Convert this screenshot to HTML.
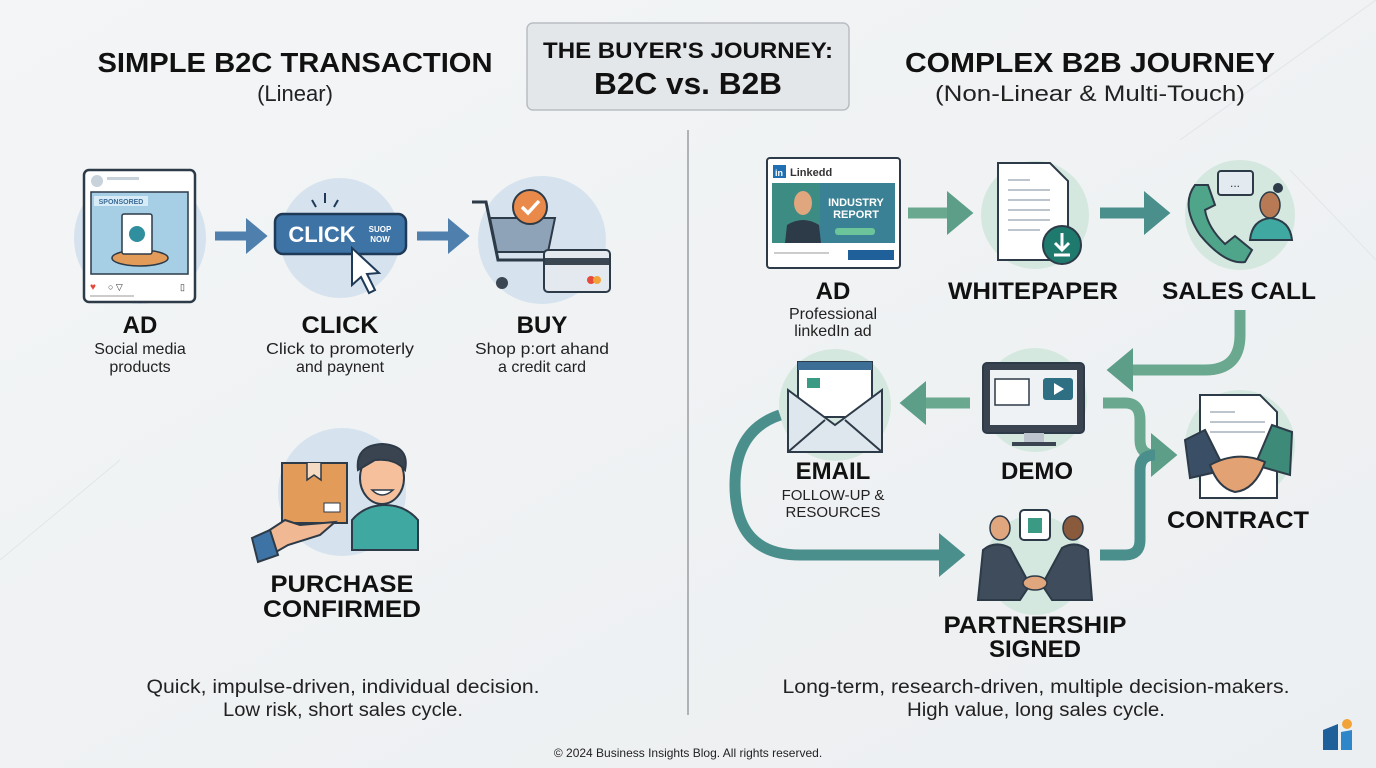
<!DOCTYPE html>
<html><head><meta charset="utf-8"><style>
html,body{margin:0;padding:0;background:#f1f3f4;}
svg{display:block;font-family:"Liberation Sans",sans-serif;}
.h{font-weight:bold;fill:#111;text-anchor:middle;}
.s{fill:#222;text-anchor:middle;}
</style></head><body>
<svg width="1376" height="768" viewBox="0 0 1376 768" xmlns="http://www.w3.org/2000/svg">
<defs>
<linearGradient id="bg" x1="0" y1="0" x2="1" y2="1"><stop offset="0" stop-color="#f3f5f6"/><stop offset="1" stop-color="#eceff1"/></linearGradient>
<marker id="ag" markerWidth="4" markerHeight="4" refX="1" refY="2" orient="auto" markerUnits="strokeWidth"><path d="M0,0 L2.4,2 L0,4 Z" fill="#5c9e88"/></marker>
<marker id="at" markerWidth="4" markerHeight="4" refX="1" refY="2" orient="auto" markerUnits="strokeWidth"><path d="M0,0 L2.4,2 L0,4 Z" fill="#4b8f8c"/></marker>
<marker id="ab" markerWidth="4" markerHeight="4" refX="1" refY="2" orient="auto" markerUnits="strokeWidth"><path d="M0,0 L2.4,2 L0,4 Z" fill="#4f7fac"/></marker>
</defs>
<rect width="1376" height="768" fill="url(#bg)"/>
<g stroke="#e2e6e9" stroke-width="1" fill="none"><path d="M1180 140 L1376 0"/><path d="M1290 170 L1376 260"/><path d="M0 560 L120 460"/></g>

<rect x="527" y="23" width="322" height="87" rx="6" fill="#e4e7ea" stroke="#b9bec3" stroke-width="1.5"/>
<text x="688" y="58" class="h" font-size="22" textLength="290" lengthAdjust="spacingAndGlyphs">THE BUYER'S JOURNEY:</text>
<text x="688" y="94" class="h" font-size="31" textLength="188" lengthAdjust="spacingAndGlyphs">B2C vs. B2B</text>

<text x="295" y="72" class="h" font-size="28" textLength="395" lengthAdjust="spacingAndGlyphs">SIMPLE B2C TRANSACTION</text>
<text x="295" y="101" class="s" font-size="22">(Linear)</text>
<text x="1090" y="72" class="h" font-size="28" textLength="370" lengthAdjust="spacingAndGlyphs">COMPLEX B2B JOURNEY</text>
<text x="1090" y="101" class="s" font-size="22" textLength="310" lengthAdjust="spacingAndGlyphs">(Non-Linear &amp; Multi-Touch)</text>

<line x1="688" y1="130" x2="688" y2="715" stroke="#9a9ea2" stroke-width="1.5"/>

<circle cx="140" cy="238" r="66" fill="#d6e3ee"/>
<circle cx="340" cy="238" r="60" fill="#d6e3ee"/>
<circle cx="542" cy="240" r="64" fill="#d6e3ee"/>
<rect x="84" y="170" width="111" height="132" rx="5" fill="#fff" stroke="#2d3a48" stroke-width="2.5"/>
<circle cx="97" cy="181" r="6" fill="#c8d2db"/><rect x="107" y="177" width="32" height="3" fill="#c8d2db"/>
<rect x="91" y="192" width="97" height="82" fill="#a6cfe6" stroke="#2d3a48" stroke-width="1.5"/>
<rect x="94" y="196" width="54" height="10" fill="#d7ecf7"/><text x="121" y="204" font-size="7" fill="#3b6b97" text-anchor="middle" font-weight="bold">SPONSORED</text>
<ellipse cx="140" cy="258" rx="28" ry="8" fill="#e39b5a" stroke="#2d3a48" stroke-width="1.5"/>
<rect x="122" y="214" width="30" height="40" rx="2" fill="#fff" stroke="#2d3a48" stroke-width="1.5"/>
<circle cx="137" cy="234" r="8" fill="#2f8f9f"/>
<text x="90" y="290" font-size="10" fill="#e04a3a">♥</text><text x="108" y="290" font-size="9" fill="#333">○ ▽</text><text x="180" y="290" font-size="9" fill="#333">▯</text>
<rect x="90" y="295" width="44" height="2" fill="#ccc"/>
<line x1="215" y1="236" x2="255" y2="236" stroke="#4f7fac" stroke-width="9" marker-end="url(#ab)"/>
<line x1="417" y1="236" x2="457" y2="236" stroke="#4f7fac" stroke-width="9" marker-end="url(#ab)"/>
<rect x="275" y="214" width="131" height="40" rx="8" fill="#3e73a6" stroke="#1f3a57" stroke-width="2.5"/>
<text x="322" y="242" font-size="22" font-weight="bold" fill="#fff" text-anchor="middle">CLICK</text>
<text x="380" y="232" font-size="8" font-weight="bold" fill="#fff" text-anchor="middle">SUOP</text>
<text x="380" y="242" font-size="8" font-weight="bold" fill="#fff" text-anchor="middle">NOW</text>
<path d="M352 248 L352 285 L361 277 L369 293 L375 290 L367 274 L379 273 Z" fill="#fff" stroke="#1f3a57" stroke-width="2"/>
<g stroke="#1f3a57" stroke-width="2"><line x1="312" y1="200" x2="316" y2="207"/><line x1="325" y1="193" x2="325" y2="203"/><line x1="338" y1="200" x2="334" y2="207"/></g>
<path d="M472 202 L486 202 L498 260 L548 260" fill="none" stroke="#2d3a48" stroke-width="3"/>
<path d="M490 218 L555 218 L548 252 L497 252 Z" fill="#8fa3b8" stroke="#2d3a48" stroke-width="2"/>
<circle cx="502" cy="283" r="6" fill="#3a4652"/>
<circle cx="530" cy="207" r="17" fill="#ea8a4a" stroke="#2d3a48" stroke-width="2"/>
<path d="M522 207 L528 213 L539 201" fill="none" stroke="#fff" stroke-width="3.5"/>
<rect x="544" y="250" width="66" height="42" rx="4" fill="#e3e9ef" stroke="#2d3a48" stroke-width="2"/>
<rect x="545" y="258" width="64" height="7" fill="#3a4652"/>
<circle cx="591" cy="280" r="4" fill="#e54a3a"/><circle cx="597" cy="280" r="4" fill="#f1a33a"/>
<text x="140" y="333" class="h" font-size="24">AD</text>
<text x="140" y="354" class="s" font-size="16">Social media</text>
<text x="140" y="372" class="s" font-size="16">products</text>
<text x="340" y="333" class="h" font-size="24" textLength="77" lengthAdjust="spacingAndGlyphs">CLICK</text>
<text x="340" y="354" class="s" font-size="16" textLength="148" lengthAdjust="spacingAndGlyphs">Click to promoterly</text>
<text x="340" y="372" class="s" font-size="16">and paynent</text>
<text x="542" y="333" class="h" font-size="24">BUY</text>
<text x="542" y="354" class="s" font-size="16" textLength="134" lengthAdjust="spacingAndGlyphs">Shop p:ort ahand</text>
<text x="542" y="372" class="s" font-size="16">a credit card</text>
<circle cx="342" cy="492" r="64" fill="#d6e3ee"/>
<rect x="282" y="463" width="65" height="60" fill="#e39b5a" stroke="#2d3a48" stroke-width="2"/>
<path d="M307 463 L307 480 L314 475 L321 480 L321 463" fill="#f3dcc3" stroke="#2d3a48" stroke-width="1.5"/>
<rect x="324" y="503" width="16" height="9" fill="#fff" stroke="#2d3a48" stroke-width="1"/>
<path d="M262 535 L262 560 L288 545 L320 535 L335 522 L300 525 L285 520 Z" fill="#f1b894" stroke="#2d3a48" stroke-width="2"/>
<path d="M252 538 L270 530 L278 555 L258 562 Z" fill="#3e73a6" stroke="#2d3a48" stroke-width="2"/>
<path d="M352 550 L352 520 Q365 505 385 505 Q405 505 418 520 L418 550 Z" fill="#3fa8a0" stroke="#2d3a48" stroke-width="2"/>
<ellipse cx="382" cy="478" rx="22" ry="26" fill="#f6c09c" stroke="#2d3a48" stroke-width="2"/>
<path d="M358 470 Q355 445 383 444 Q410 446 405 470 Q395 458 375 460 Z" fill="#3a4450" stroke="#2d3a48" stroke-width="2"/>
<path d="M372 490 Q382 500 393 490 Z" fill="#fff" stroke="#2d3a48" stroke-width="1.5"/>
<text x="342" y="592" class="h" font-size="24" textLength="143" lengthAdjust="spacingAndGlyphs">PURCHASE</text>
<text x="342" y="617" class="h" font-size="24" textLength="158" lengthAdjust="spacingAndGlyphs">CONFIRMED</text>
<text x="343" y="693" class="s" font-size="19" textLength="393" lengthAdjust="spacingAndGlyphs">Quick, impulse-driven, individual decision.</text>
<text x="343" y="716" class="s" font-size="19" textLength="240" lengthAdjust="spacingAndGlyphs">Low risk, short sales cycle.</text>

<g fill="#d5e8e0">
<circle cx="1035" cy="215" r="54"/><circle cx="1240" cy="215" r="55"/>
<circle cx="835" cy="405" r="56"/><circle cx="1035" cy="400" r="52"/>
<circle cx="1240" cy="445" r="55"/><circle cx="1035" cy="565" r="50"/>
</g>
<g fill="none" stroke-width="11">
<line x1="908" y1="213" x2="958" y2="213" stroke="#6aa98f" marker-end="url(#ag)"/>
<line x1="1100" y1="213" x2="1155" y2="213" stroke="#4b8f8c" marker-end="url(#at)"/>
<path d="M1240 310 L1240 335 Q1240 370 1205 370 L1122 370" stroke="#6aa98f" marker-end="url(#ag)"/>
<line x1="970" y1="403" x2="915" y2="403" stroke="#6aa98f" marker-end="url(#ag)"/>
<path d="M780 415 Q735 430 735 485 Q735 555 800 555 L950 555" stroke="#4b8f8c" marker-end="url(#at)"/>
<path d="M1103 403 L1125 403 Q1140 403 1140 420 L1140 440 Q1140 455 1155 455 L1162 455" stroke="#6aa98f" marker-end="url(#ag)"/>
<path d="M1100 555 L1125 555 Q1140 555 1140 540 L1140 470 Q1140 455 1155 455" stroke="#4b8f8c"/>
</g>
<rect x="767" y="158" width="133" height="110" rx="3" fill="#fff" stroke="#2d3a48" stroke-width="2"/>
<rect x="773" y="165" width="13" height="13" fill="#1f6fb2"/><text x="779" y="176" font-size="9" font-weight="bold" fill="#fff" text-anchor="middle">in</text>
<text x="790" y="176" font-size="11" font-weight="bold" fill="#333">Linkedd</text>
<rect x="772" y="183" width="123" height="60" fill="#3d8c84"/>
<rect x="820" y="183" width="75" height="60" fill="#3b7aa0" opacity="0.6"/>
<text x="856" y="206" font-size="11" font-weight="bold" fill="#fff" text-anchor="middle">INDUSTRY</text>
<text x="856" y="218" font-size="11" font-weight="bold" fill="#fff" text-anchor="middle">REPORT</text>
<rect x="835" y="228" width="40" height="7" rx="3" fill="#6cc49a"/>
<ellipse cx="803" cy="203" rx="9" ry="12" fill="#e0a67e"/>
<path d="M785 243 L787 225 Q803 215 819 225 L821 243 Z" fill="#2d3a48"/>
<rect x="848" y="250" width="46" height="10" fill="#1f5f9a"/><rect x="774" y="252" width="55" height="2" fill="#ccc"/>
<path d="M998 163 L1050 163 L1068 181 L1068 260 L998 260 Z" fill="#fff" stroke="#2d3a48" stroke-width="2"/>
<g stroke="#bcc5cd" stroke-width="2"><line x1="1008" y1="180" x2="1030" y2="180"/><line x1="1008" y1="190" x2="1050" y2="190"/><line x1="1008" y1="200" x2="1050" y2="200"/><line x1="1008" y1="210" x2="1050" y2="210"/><line x1="1008" y1="220" x2="1050" y2="220"/><line x1="1008" y1="230" x2="1040" y2="230"/></g>
<circle cx="1062" cy="245" r="19" fill="#1f7a6e" stroke="#2d3a48" stroke-width="2"/>
<path d="M1062 233 L1062 250 M1055 243 L1062 250 L1069 243 M1054 255 L1070 255" stroke="#fff" stroke-width="3" fill="none"/>
<path d="M1195 185 Q1180 205 1200 235 Q1225 265 1245 262 L1252 250 L1235 236 L1225 244 Q1208 228 1205 210 L1215 205 L1208 185 Z" fill="#4ea58a" stroke="#2d3a48" stroke-width="2"/>
<rect x="1218" y="171" width="35" height="24" rx="3" fill="#e4ebf0" stroke="#2d3a48" stroke-width="2"/>
<text x="1235" y="187" font-size="12" text-anchor="middle" fill="#333">...</text>
<path d="M1250 240 Q1252 220 1270 218 Q1290 220 1292 240 Z" fill="#3fa8a0" stroke="#2d3a48" stroke-width="2"/>
<ellipse cx="1270" cy="205" rx="10" ry="13" fill="#b77a55" stroke="#2d3a48" stroke-width="1.5"/>
<circle cx="1278" cy="188" r="5" fill="#2d3a48"/>
<text x="833" y="299" class="h" font-size="24">AD</text>
<text x="833" y="319" class="s" font-size="16">Professional</text>
<text x="833" y="336" class="s" font-size="16">linkedIn ad</text>
<text x="1033" y="299" class="h" font-size="24" textLength="170" lengthAdjust="spacingAndGlyphs">WHITEPAPER</text>
<text x="1239" y="299" class="h" font-size="24" textLength="154" lengthAdjust="spacingAndGlyphs">SALES CALL</text>
<rect x="798" y="362" width="74" height="55" fill="#fff" stroke="#2d3a48" stroke-width="2"/>
<rect x="798" y="362" width="74" height="8" fill="#3d6f96"/>
<rect x="807" y="378" width="13" height="10" fill="#3b9a84"/>
<path d="M788 390 L788 452 L882 452 L882 390 L835 425 Z" fill="#dfe7ee" stroke="#2d3a48" stroke-width="2"/>
<path d="M788 452 L825 420 M882 452 L845 420" stroke="#2d3a48" stroke-width="2"/>
<rect x="983" y="363" width="101" height="70" rx="4" fill="#3a4450" stroke="#2d3a48" stroke-width="2"/>
<rect x="990" y="370" width="87" height="55" fill="#eef2f5"/>
<rect x="995" y="379" width="34" height="26" fill="#fff" stroke="#2d3a48" stroke-width="1.5"/>
<rect x="1043" y="378" width="30" height="22" rx="3" fill="#2f6f84"/><path d="M1054 383 L1054 395 L1064 389 Z" fill="#fff"/>
<rect x="1024" y="433" width="20" height="10" fill="#bcc5cd"/><rect x="1012" y="442" width="44" height="4" fill="#3a4450"/>
<path d="M1200 395 L1260 395 L1277 412 L1277 498 L1200 498 Z" fill="#fff" stroke="#2d3a48" stroke-width="2"/>
<g stroke="#bcc5cd" stroke-width="2"><line x1="1210" y1="412" x2="1235" y2="412"/><line x1="1210" y1="422" x2="1265" y2="422"/><line x1="1210" y1="432" x2="1265" y2="432"/></g>
<path d="M1185 440 L1205 430 L1225 470 L1190 478 Z" fill="#3a4f66" stroke="#2d3a48" stroke-width="2"/>
<path d="M1292 432 L1272 425 L1255 465 L1290 475 Z" fill="#3e8a78" stroke="#2d3a48" stroke-width="2"/>
<path d="M1210 465 Q1238 450 1265 462 Q1255 490 1235 492 Q1218 488 1210 465 Z" fill="#e3a273" stroke="#2d3a48" stroke-width="2"/>
<rect x="1020" y="510" width="30" height="30" rx="4" fill="#fff" stroke="#2d3a48" stroke-width="2"/>
<path d="M1028 518 L1042 518 L1042 533 L1028 533 Z" fill="#3b9a84"/>
<path d="M978 600 L983 550 Q995 540 1010 548 L1030 585 L1020 600 Z" fill="#3e4c5c" stroke="#2d3a48" stroke-width="2"/>
<path d="M1092 600 L1088 550 Q1076 540 1062 548 L1042 585 L1052 600 Z" fill="#3e4c5c" stroke="#2d3a48" stroke-width="2"/>
<ellipse cx="1000" cy="528" rx="10" ry="12" fill="#e0a67e" stroke="#2d3a48" stroke-width="1.5"/>
<ellipse cx="1073" cy="528" rx="10" ry="12" fill="#8a5a3c" stroke="#2d3a48" stroke-width="1.5"/>
<ellipse cx="1035" cy="583" rx="12" ry="7" fill="#e0a67e" stroke="#2d3a48" stroke-width="1.5"/>

<text x="833" y="479" class="h" font-size="24">EMAIL</text>
<text x="833" y="500" class="s" font-size="15">FOLLOW-UP &amp;</text>
<text x="833" y="517" class="s" font-size="15">RESOURCES</text>
<text x="1037" y="479" class="h" font-size="24">DEMO</text>
<text x="1238" y="528" class="h" font-size="24" textLength="142" lengthAdjust="spacingAndGlyphs">CONTRACT</text>
<text x="1035" y="633" class="h" font-size="24" textLength="183" lengthAdjust="spacingAndGlyphs">PARTNERSHIP</text>
<text x="1035" y="657" class="h" font-size="24">SIGNED</text>
<text x="1036" y="693" class="s" font-size="19" textLength="507" lengthAdjust="spacingAndGlyphs">Long-term, research-driven, multiple decision-makers.</text>
<text x="1036" y="716" class="s" font-size="19" textLength="258" lengthAdjust="spacingAndGlyphs">High value, long sales cycle.</text>

<text x="688" y="757" class="s" font-size="12">© 2024 Business Insights Blog. All rights reserved.</text>
<path d="M1323 730 L1338 724 L1338 750 L1323 750 Z" fill="#1f5f9a"/>
<path d="M1341 732 L1352 730 L1352 750 L1341 750 Z" fill="#2f86c8"/>
<circle cx="1347" cy="724" r="5" fill="#f1a33a"/>
</svg>
</body></html>
